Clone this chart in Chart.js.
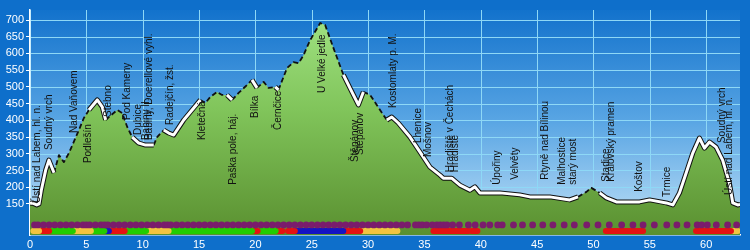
<!DOCTYPE html>
<html>
<head>
<meta charset="utf-8">
<script src="https://cdn.jsdelivr.net/npm/chart.js@4.4.0/dist/chart.umd.min.js"></script>
<style>
  html, body { margin: 0; padding: 0; background: #0e6fcb; }
  #wrap { width: 750px; height: 250px; }
</style>
</head>
<body>
<div id="wrap"><canvas id="profile_chart"></canvas></div>
<script>
// elevation profile (km along route, metres)
var km = [0, 0.2, 0.6, 0.8, 1.0, 1.39, 1.68, 2.13, 2.57, 3.01, 3.45, 4.34, 4.78, 5.23, 5.97, 6.41, 6.71, 7.0, 7.74, 8.18,
  8.63, 9.07, 9.65, 10.25, 10.98, 11.28, 11.87, 12.31, 12.75, 13.64, 15.12, 15.56, 16.0, 16.6, 17.04, 17.48, 17.93, 18.51, 19.26, 19.7,
  20.14, 20.73, 21.17, 21.76, 22.05, 22.8, 23.38, 23.83, 24.27, 24.86, 25.75, 26.19, 26.93, 27.81, 28.56, 29.14, 29.58, 30.18, 31.06, 31.66,
  32.1, 32.68, 33.72, 34.61, 35.49, 36.38, 36.67, 37.41, 38.15, 39.03, 39.48, 39.92, 41.69, 43.46, 44.35, 46.12, 47.89, 48.63, 49.37, 49.81,
  50.55, 51.14, 52.03, 54.09, 54.98, 56.46, 57.04, 57.63, 58.23, 58.81, 59.4, 59.85, 60.29, 60.88, 61.46, 62.06, 62.36, 62.8, 63.0];
var elevation = [152, 153, 147, 150, 190, 251, 281, 243, 296, 275, 302, 371, 407, 431, 461, 440, 401, 410, 431, 422,
  380, 350, 332, 326, 326, 350, 371, 362, 356, 401, 461, 452, 470, 485, 476, 476, 461, 482, 506, 521,
  497, 515, 497, 500, 491, 556, 574, 571, 595, 640, 691, 685, 616, 536, 485, 446, 485, 476, 431, 401,
  410, 392, 350, 305, 260, 236, 227, 227, 206, 191, 201, 183, 183, 177, 171, 171, 162, 171, 186, 198,
  183, 168, 156, 156, 162, 153, 147, 183, 243, 302, 347, 317, 335, 320, 281, 212, 153, 147, 148];

// place names: [km, elevation where the text starts, name]
var places = [
  [0.68, 153, "Ústí nad Labem, hl. n."],
  [1.74, 311, "Soudný vrch"],
  [3.96, 362, "Nad Vaňovem"],
  [5.2, 272, "Podlešín"],
  [6.97, 410, "Stebno"],
  [8.65, 401, "Pod Kameny"],
  [9.63, 356, "Dubice"],
  [10.34, 341, "Babiny II."],
  [10.6, 341, "Babiny, Doerellové vyhl."],
  [12.48, 386, "Radejčín, žst."],
  [15.3, 341, "Kletečná"],
  [18.04, 207, "Paška pole, háj."],
  [20.0, 407, "Bílka"],
  [22.03, 371, "Černčice"],
  [25.93, 482, "U Velké jedle"],
  [28.85, 275, "Štěpánov"],
  [29.29, 296, "Štěpánov"],
  [32.21, 437, "Kostomlaty p. M."],
  [34.43, 332, "Lhenice"],
  [35.31, 290, "Mošnov"],
  [37.26, 245, "Hradiště v Čechách"],
  [37.7, 245, "Hradiště"],
  [41.43, 207, "Úpořiny"],
  [43.02, 222, "Velvěty"],
  [45.68, 222, "Rtyně nad Bílinou"],
  [47.71, 207, ["Malhostice", "starý most"]],
  [51.17, 216, "Stadice"],
  [51.61, 216, "Královský pramen"],
  [54.09, 186, "Koštov"],
  [56.57, 171, "Trmice"],
  [61.4, 332, "Soudný vrch"],
  [62.06, 177, "Ústí nad Labem, hl. n."]
];

// stretches drawn as white line
var whiteRanges = [[0, 2.2], [5.2, 6.7], [9.3, 10.9], [11.9, 15.1], [17.6, 18.2], [19.9, 20.4], [21.6, 22.2],
  [23.2, 23.6], [27.4, 29.4], [31.6, 48.5], [50.2, 63]];

// trail marking colours along the route: [from km, to km, colour]
var trailSegments = [
  [0.3, 0.8, "yellow"], [0.8, 1.7, "red"], [1.7, 3.8, "green"], [3.8, 5.4, "yellow"], [5.4, 6.6, "green"],
  [6.6, 7.0, "blue"], [7.0, 8.4, "red"], [8.4, 10.3, "green"], [10.3, 12.3, "yellow"], [12.3, 19.7, "green"],
  [19.7, 20.2, "red"], [20.2, 21.8, "green"], [21.8, 22.4, "red"], [22.9, 23.5, "red"], [23.5, 27.8, "blue"],
  [27.8, 29.3, "red"], [29.5, 32.6, "yellow"], [35.8, 38.9, "red"], [39.2, 39.7, "red"], [51.1, 54.4, "red"],
  [59.1, 62.2, "red"], [62.2, 62.8, "yellow"]
];

// waypoints row
var dotKm = [0.4, 0.7, 1.2, 1.7, 2.2, 2.7, 3.2, 3.7, 4.2, 4.7, 5.0, 5.3, 5.8, 6.3, 6.6, 6.9, 7.4, 7.9, 8.4, 8.9,
  9.4, 9.9, 10.4, 10.9, 11.4, 11.9, 12.2, 12.5, 13.0, 13.5, 14.0, 14.5, 15.0, 15.5, 16.0, 16.5, 17.0, 17.5, 18.0, 18.5,
  19.0, 19.5, 20.0, 20.5, 21.0, 21.5, 22.0, 22.5, 23.0, 23.5, 24.0, 24.5, 25.0, 25.5, 26.0, 26.5, 27.0, 27.5, 28.0, 28.5,
  29.0, 29.5, 30.0, 30.5, 31.0, 31.5, 32.0, 32.5, 33.0, 33.5, 34.2, 34.5, 34.8, 35.2, 35.7, 36.1, 36.4, 36.7, 37.0, 37.5,
  38.1, 38.9, 39.5, 40.2, 40.8, 41.5, 41.9, 42.9, 43.7, 44.6, 45.5, 46.4, 47.4, 48.3, 49.4, 50.4, 51.4, 52.5, 53.5, 54.4,
  55.4, 56.5, 57.4, 58.3, 59.2, 59.6, 60.1, 60.9, 61.9, 62.7];

var xTicks = [0, 5, 10, 15, 20, 25, 30, 35, 40, 45, 50, 55, 60];
var yTicks = [150, 200, 250, 300, 350, 400, 450, 500, 550, 600, 650, 700];

var trailColours = { yellow: "#f2c440", red: "#e41212", green: "#22cc00", blue: "#1414c4" };
var DOT_LEVEL = 87;
var BAR_LEVEL = 69;

function isWhite(x) {
  for (var i = 0; i < whiteRanges.length; i++) {
    if (x >= whiteRanges[i][0] && x < whiteRanges[i][1]) return true;
  }
  return false;
}
function segWhite(ctx) {
  return isWhite((ctx.p0.parsed.x + ctx.p1.parsed.x) / 2);
}

var profile = km.map(function (k, i) { return { x: k, y: elevation[i] }; });

var datasets = [];
// markers first, so they end up on top
datasets.push({
  data: dotKm.map(function (k) { return { x: k, y: DOT_LEVEL }; }),
  showLine: false,
  pointRadius: 3.4,
  pointBackgroundColor: "#7a1c6c",
  pointBorderWidth: 0
});
trailSegments.forEach(function (s) {
  datasets.push({
    data: [{ x: s[0], y: BAR_LEVEL }, { x: s[1], y: BAR_LEVEL }],
    borderColor: trailColours[s[2]],
    borderWidth: 6,
    borderCapStyle: "round",
    pointRadius: 0,
    fill: false
  });
});
// white core of the line
datasets.push({
  data: profile,
  borderWidth: 3,
  borderColor: "#ffffff",
  borderJoinStyle: "round",
  pointRadius: 0,
  fill: false,
  segment: {
    borderColor: function (ctx) { return segWhite(ctx) ? "#ffffff" : "rgba(0,0,0,0)"; }
  }
});
// black outline / dashes
datasets.push({
  data: profile,
  borderColor: "#111111",
  borderWidth: 1.8,
  borderJoinStyle: "round",
  pointRadius: 0,
  fill: false,
  segment: {
    borderWidth: function (ctx) { return segWhite(ctx) ? 5 : 1.8; },
    borderDash: function (ctx) { return segWhite(ctx) ? [] : [5, 3]; }
  }
});
// green area under the profile
datasets.push({
  data: profile,
  borderWidth: 0,
  borderColor: "rgba(0,0,0,0)",
  pointRadius: 0,
  fill: "start",
  backgroundColor: function (context) {
    var a = context.chart.chartArea;
    if (!a) return "#7cc056";
    var g = context.chart.ctx.createLinearGradient(0, a.top, 0, a.bottom);
    g.addColorStop(0, "#a2e484");
    g.addColorStop(0.45, "#80c45a");
    g.addColorStop(1, "#5a9030");
    return g;
  }
});

// plot background and grid, painted before anything else
var backgroundPlugin = {
  id: "bg",
  beforeDraw: function (chart) {
    var c = chart.ctx, a = chart.chartArea, xs = chart.scales.x, ys = chart.scales.y;
    c.save();
    c.fillStyle = "#0e6fcb";
    c.fillRect(0, 0, chart.width, chart.height);
    var g = c.createLinearGradient(0, a.top, 0, a.bottom);
    g.addColorStop(0, "#1272cc");
    g.addColorStop(0.5, "#5aa6e4");
    g.addColorStop(1, "#c2e2f7");
    c.fillStyle = g;
    c.fillRect(a.left, a.top, a.right - a.left, a.bottom - a.top);
    c.strokeStyle = "#8ed8f6";
    c.lineWidth = 1;
    c.beginPath();
    xTicks.forEach(function (v) {
      var px = Math.round(xs.getPixelForValue(v)) + 0.5;
      c.moveTo(px, a.top);
      c.lineTo(px, a.bottom);
    });
    yTicks.forEach(function (v) {
      var py = Math.round(ys.getPixelForValue(v)) + 0.5;
      c.moveTo(a.left, py);
      c.lineTo(a.right, py);
    });
    c.stroke();
    c.restore();
  }
};

var placesPlugin = {
  id: "places",
  afterDatasetsDraw: function (chart) {
    var c = chart.ctx, xs = chart.scales.x, ys = chart.scales.y;
    c.save();
    c.fillStyle = "#111111";
    c.font = "10px 'Liberation Sans', Arial, sans-serif";
    c.textAlign = "left";
    c.textBaseline = "middle";
    places.forEach(function (p) {
      var lines = Array.isArray(p[2]) ? p[2] : [p[2]];
      c.save();
      c.translate(xs.getPixelForValue(p[0]), ys.getPixelForValue(p[1]));
      c.rotate(-Math.PI / 2);
      lines.forEach(function (t, i) {
        c.fillText(t, 0, (i - (lines.length - 1) / 2) * 11);
      });
      c.restore();
    });
    c.restore();
  }
};

Chart.defaults.font.family = "'Liberation Sans', Arial, sans-serif";
Chart.defaults.font.size = 11;

new Chart(document.getElementById("profile_chart"), {
  type: "line",
  data: { datasets: datasets },
  plugins: [backgroundPlugin, placesPlugin],
  options: {
    responsive: true,
    maintainAspectRatio: false,
    devicePixelRatio: 1,
    animation: false,
    layout: { padding: { top: 10, right: 10, left: 0, bottom: 0 } },
    plugins: { legend: { display: false }, tooltip: { enabled: false } },
    scales: {
      x: {
        type: "linear",
        min: 0,
        max: 63,
        afterBuildTicks: function (axis) { axis.ticks = xTicks.map(function (v) { return { value: v }; }); },
        afterFit: function (axis) { axis.height = 15; },
        grid: { drawOnChartArea: false, drawTicks: false },
        border: { display: true, color: "#ffffff", width: 1.5 },
        ticks: { color: "#ffffff", padding: 3, maxRotation: 0, autoSkip: false }
      },
      y: {
        min: 57,
        max: 730,
        afterBuildTicks: function (axis) { axis.ticks = yTicks.map(function (v) { return { value: v }; }); },
        afterFit: function (axis) { axis.width = 30; },
        grid: { drawOnChartArea: false, tickColor: "#ffffff", tickLength: 4 },
        border: { display: true, color: "#ffffff", width: 1.5 },
        ticks: { color: "#ffffff", padding: 2, autoSkip: false }
      }
    }
  }
});
</script>
</body>
</html>
